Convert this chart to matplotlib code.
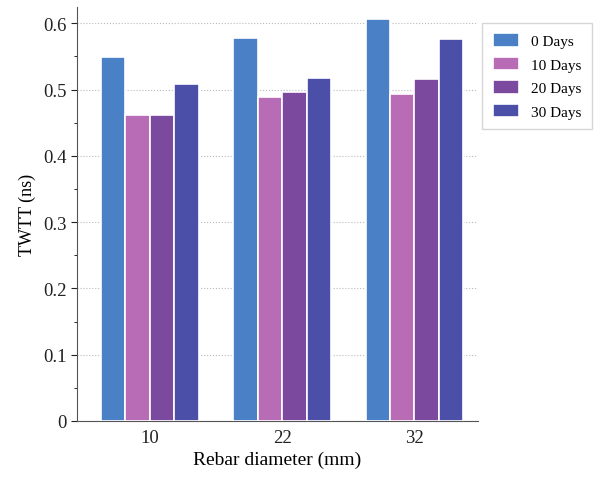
import numpy as np
import matplotlib.pyplot as plt
from matplotlib.ticker import MultipleLocator

plt.rcParams['font.family'] = ['Liberation Serif', 'DejaVu Serif']

# data
diameters = ['10', '22', '32']
series_names = ['0 Days', '10 Days', '20 Days', '30 Days']
day0 = [0.549, 0.578, 0.607]
day10 = [0.461, 0.488, 0.494]
day20 = [0.461, 0.497, 0.516]
day30 = [0.509, 0.518, 0.576]
yticks = [0, 0.1, 0.2, 0.3, 0.4, 0.5, 0.6]
ytick_labels = ['0', '0.1', '0.2', '0.3', '0.4', '0.5', '0.6']
colors = ['#4a80c6', '#b86cb6', '#7b4a9f', '#4b4fa8']

fig = plt.figure(figsize=(5.95, 4.81), dpi=100)
ax = fig.add_axes([0.1294, 0.1227, 0.674, 0.860])

x = np.arange(len(diameters))
w = 0.185
for i, (vals, name, c) in enumerate(zip([day0, day10, day20, day30], series_names, colors)):
    ax.bar(x + (i - 1.5) * w, vals, width=w, color=c, edgecolor='white',
           linewidth=1.2, label=name, zorder=3)

ax.set_xlim(-0.55, 2.48)
ax.set_ylim(0, 0.624)
ax.set_xticks(x)
ax.set_xticklabels(diameters)
ax.set_yticks(yticks)
ax.set_yticklabels(ytick_labels)
ax.yaxis.set_minor_locator(MultipleLocator(0.05))
ax.tick_params(axis='both', labelsize=13.5, colors='#222222')
ax.tick_params(axis='x', length=0, pad=6)
ax.tick_params(axis='y', which='major', length=4, direction='out')
ax.tick_params(axis='y', which='minor', length=2.5, direction='out')
ax.grid(axis='y', linestyle=':', color='#bbbbbb', linewidth=0.8, zorder=0)
ax.spines['top'].set_visible(False)
ax.spines['right'].set_visible(False)
for s in ['left', 'bottom']:
    ax.spines[s].set_color('#555555')

ax.set_xlabel('Rebar diameter (mm)', fontsize=14, labelpad=3)
ax.set_ylabel('TWTT (ns)', fontsize=13, labelpad=5)

fig.legend(loc='upper left', bbox_to_anchor=(0.797, 0.967), fontsize=11,
           frameon=True, fancybox=False, edgecolor='#cccccc',
           handlelength=1.7, handleheight=1.0, borderpad=0.7, labelspacing=0.55)

fig.savefig('out.png', dpi=100)
